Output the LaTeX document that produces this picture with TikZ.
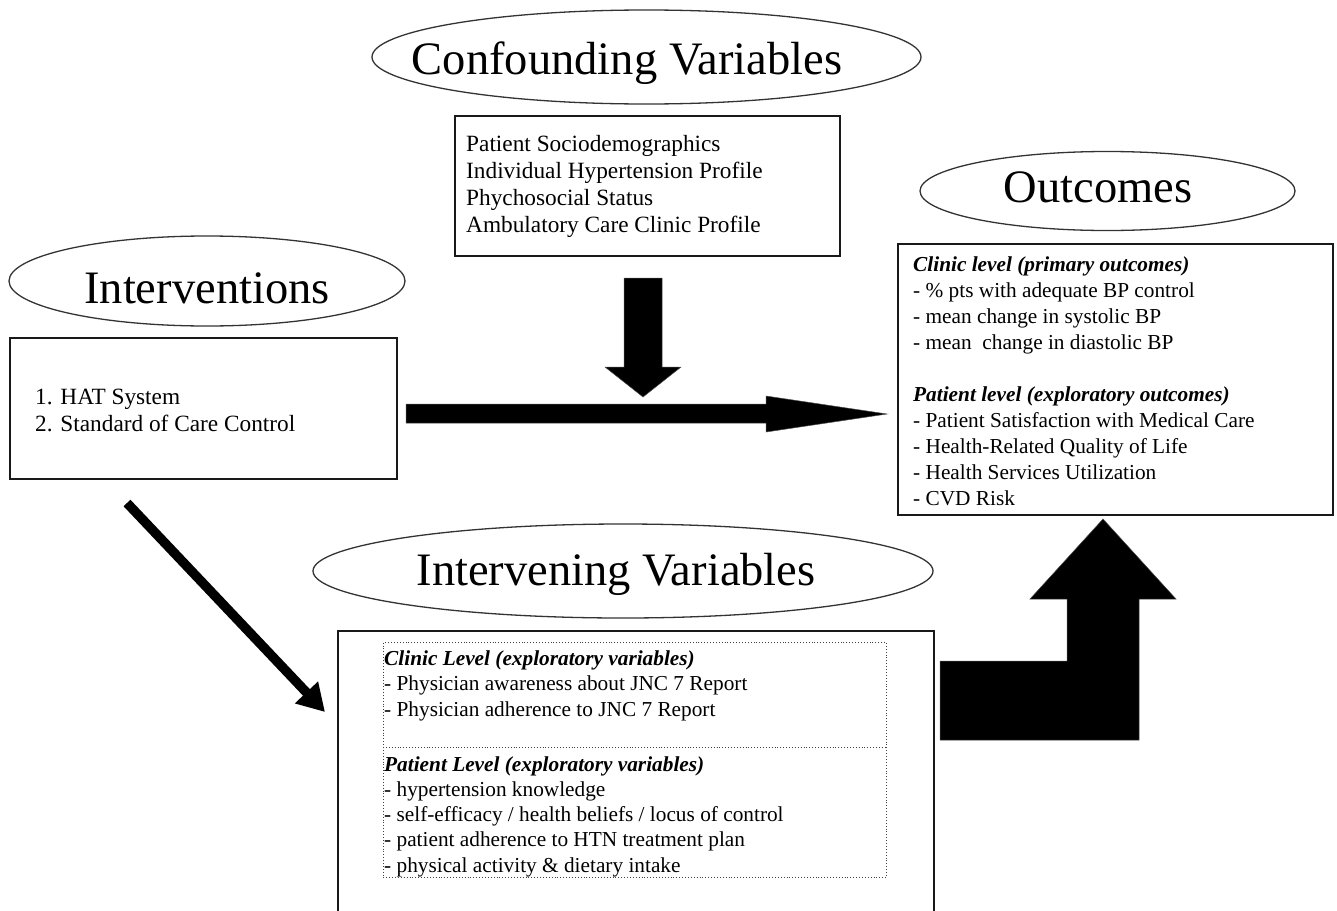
\documentclass[tikz,border=0pt]{standalone}
\usepackage{fontspec}
\setmainfont{Liberation Serif}
\usetikzlibrary{shapes.geometric,arrows.meta}
\begin{document}
\begin{tikzpicture}[x=1pt,y=-1pt,
  oval/.style={draw=black!80, line width=1.3pt, ellipse, inner sep=0pt},
  title/.style={font=\fontsize{46.5}{50}\selectfont, anchor=base, inner sep=0pt},
  box/.style={draw=black!90, line width=2pt, rectangle, anchor=north west, inner sep=0pt},
  dotbox/.style={draw=black!75, line width=0.9pt, dotted, rectangle, anchor=north west, inner sep=0pt},
  big/.style={font=\fontsize{23.3}{27}\selectfont, anchor=base west, inner sep=0pt},
  small/.style={font=\fontsize{21.3}{25}\selectfont, anchor=base west, inner sep=0pt},
  block/.style={fill=black, draw=black!70, line width=0.5pt}]

\useasboundingbox (0,0) rectangle (1337,910);

% ellipses
\node[oval, minimum width=549pt, minimum height=94pt] (confE) at (646.5,57) {};
\node[title] (confT) at (627,74) {Confounding Variables};
\node[oval, minimum width=375pt, minimum height=79pt] (outE) at (1107.5,191) {};
\node[title] (outT) at (1098,202) {Outcomes};
\node[oval, minimum width=396pt, minimum height=90pt] (intE) at (207,281) {};
\node[title] (intT) at (207,303) {Interventions};
\node[oval, minimum width=620pt, minimum height=94pt] (ivE) at (623,571) {};
\node[title] (ivT) at (616,585) {Intervening Variables};

% boxes
\node[box, minimum width=385pt, minimum height=140pt] (confB) at (454,115) {};
\node[box, minimum width=387pt, minimum height=141pt] (intB) at (9,337) {};
\node[box, minimum width=435pt, minimum height=271pt] (outB) at (897,243) {};
\node[box, minimum width=596pt, minimum height=320pt] (ivB) at (337,630) {};
\node[dotbox, minimum width=503pt, minimum height=235pt] (dotB) at (383,642) {};
\coordinate (divy) at (0,747);
\draw[black!75, line width=0.9pt, dotted] (dotB.west |- divy) -- (dotB.east |- divy);

% confounding text
\foreach \t [count=\i] in {Patient Sociodemographics, Individual Hypertension Profile, Phychosocial Status, Ambulatory Care Clinic Profile}
  \node[big] (conf\i) at ({466},{151+27*(\i-1)}) {\t};

% intervention text
\node[big] (int1) at (35,404) {1. HAT System};
\node[big] (int2) at (35,431) {2. Standard of Care Control};

% outcomes text
\foreach \t [count=\i] in {\textbf{\textit{Clinic level (primary outcomes)}}, - \% pts with adequate BP control, - mean change in systolic BP, - mean\ \ change in diastolic BP, {}, \textbf{\textit{Patient level (exploratory outcomes)}}, - Patient Satisfaction with Medical Care, - Health-Related Quality of Life, - Health Services Utilization, - CVD Risk}
  \node[small] (out\i) at ({913},{271+26*(\i-1)}) {\t};

% intervening text
\foreach \t [count=\i] in {\textbf{\textit{Clinic Level (exploratory variables)}}, - Physician awareness about JNC 7 Report, - Physician adherence to JNC 7 Report}
  \node[small] (ivc\i) at ({384},{665+25.5*(\i-1)}) {\t};
\foreach \t [count=\i] in {\textbf{\textit{Patient Level (exploratory variables)}}, - hypertension knowledge, - self-efficacy / health beliefs / locus of control, - patient adherence to HTN treatment plan, - physical activity \& dietary intake}
  \node[small] (ivp\i) at ({384},{771+25.3*(\i-1)}) {\t};

% block arrows
\fill[block] (406,404) -- (766,404) -- (766,396) -- (887,414) -- (766,432) -- (766,423) -- (406,423) -- cycle;
\fill[block] (624,278) -- (662,278) -- (662,367) -- (681,367) -- (643,397) -- (605,367) -- (624,367) -- cycle;
\fill[block] (940,661) -- (1067,661) -- (1067,599) -- (1030,599) -- (1103,519) -- (1176,599) -- (1139,599) -- (1139,740) -- (940,740) -- cycle;

% diagonal arrow
\coordinate (dstart) at (127,503);
\coordinate (dend) at (325,712);
\draw[line width=9.5pt, -{Triangle[length=27pt,width=30pt]}] (dstart) -- (dend);
\end{tikzpicture}
\end{document}
